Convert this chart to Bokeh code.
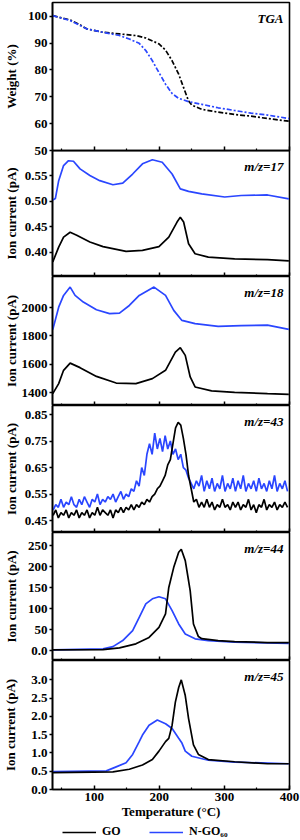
from bokeh.plotting import figure
from bokeh.layouts import column
from bokeh.models import Range1d, Label, Legend, LegendItem, FixedTicker, CustomLabelingPolicy
from bokeh.embed import file_html
from bokeh.resources import INLINE

# ---------------- data ----------------
X_START, X_END = 36, 400
X_TICKS = [100, 200, 300, 400]
X_MINOR = [50, 150, 250, 350]
X_LABELS = ["100", "200", "300", "400"]

# TGA (weight %)
tga_go_t = [36.4, 63.1, 78.3, 88.4, 113.6, 138.9, 164.1, 179.3, 199.5, 209.6, 219.7, 229.8,
            237.4, 245, 250, 265.2, 290.4, 315.7, 340.9, 366.2, 399]
tga_go_w = [100.2, 98.6, 96.8, 95.3, 94.0, 93.4, 92.8, 91.9, 89.7, 87.4, 83.4, 78.4,
            73.4, 68.4, 66.9, 65.3, 64.3, 63.4, 62.8, 61.9, 60.9]
tga_ngo_t = [36.4, 63.1, 88.4, 113.6, 138.9, 154, 169.2, 179.3, 189.4, 199.5, 209.6, 219.7,
             229.8, 245, 265.2, 290.4, 315.7, 340.9, 366.2, 399]
tga_ngo_w = [100.2, 98.4, 95.3, 94.0, 92.8, 91.5, 89.9, 87.2, 83.4, 79.0, 74.7, 71.2,
             69.4, 68.2, 67.2, 65.9, 64.9, 63.9, 63.2, 61.9]

# m/z = 17
mz17_go_t = [36.4, 45.5, 53, 63.1, 73.2, 93.4, 113.6, 149, 174.2, 199.5, 214.6, 227.3,
             232.3, 237.4, 245, 255, 275.3, 315.7, 366.2, 399]
mz17_go_v = [0.381, 0.410, 0.4295, 0.439, 0.433, 0.420, 0.411, 0.4016, 0.4035, 0.411, 0.4295, 0.459,
             0.4686, 0.459, 0.4166, 0.397, 0.3905, 0.387, 0.3855, 0.383]
mz17_ngo_t = [36.4, 40.4, 45.5, 53, 60.6, 68.2, 78.3, 93.4, 108.6, 128.8, 143.9, 159.1, 174.2,
              189.4, 204.5, 219.7, 232.3, 245, 265.2, 300.5, 325.8, 366.2, 399]
mz17_ngo_v = [0.502, 0.505, 0.540, 0.5695, 0.579, 0.578, 0.563, 0.550, 0.540, 0.532, 0.535, 0.553, 0.573,
              0.581, 0.576, 0.553, 0.524, 0.519, 0.514, 0.508, 0.511, 0.512, 0.5045]

# m/z = 18
mz18_go_t = [36.4, 45.5, 53, 63.1, 78.3, 103.5, 133.8, 164.1, 189.4, 209.6, 224.7, 232.3,
             239.9, 247.5, 255, 280.3, 315.7, 366.2, 399]
mz18_go_v = [1392, 1463, 1557, 1608, 1576, 1514, 1467, 1463, 1498, 1557, 1686, 1717,
             1663, 1510, 1439, 1411, 1401, 1392, 1387]
mz18_ngo_t = [36.4, 45.5, 53, 63.1, 70.7, 83.3, 103.5, 123.7, 138.9, 154, 169.2, 191.9, 209.6,
              222.2, 234.8, 255, 290.4, 325.8, 366.2, 399]
mz18_ngo_v = [1845, 2004, 2087, 2146, 2087, 2040, 1986, 1958, 1962, 2016, 2087, 2146, 2087,
              1981, 1910, 1887, 1868, 1873, 1877, 1847]

# m/z = 43 (noisy signal, values read every 4 degC)
mz43_t = [37, 41, 45, 49, 53, 57, 61, 65, 69, 73,
          77, 81, 85, 89, 93, 97, 101, 105, 109, 113,
          117, 121, 125, 129, 133, 137, 141, 145, 149, 153,
          157, 161, 165, 169, 173, 177, 181, 185, 189, 193,
          197, 201, 205, 209, 213, 217, 221, 225, 229, 233,
          237, 241, 245, 249, 253, 257, 261, 265, 269, 273,
          277, 281, 285, 289, 293, 297, 301, 305, 309, 313,
          317, 321, 325, 329, 333, 337, 341, 345, 349, 353,
          357, 361, 365, 369, 373, 377, 381, 385, 389, 393,
          397]
mz43_go_v = [0.47, 0.49, 0.46, 0.48, 0.47, 0.49, 0.46, 0.48, 0.47, 0.49,
             0.46, 0.48, 0.47, 0.49, 0.46, 0.48, 0.47, 0.50, 0.47, 0.49,
             0.48, 0.47, 0.49, 0.46, 0.49, 0.48, 0.50, 0.48, 0.50, 0.49,
             0.51, 0.49, 0.51, 0.50, 0.52, 0.51, 0.53, 0.52, 0.54, 0.55,
             0.57, 0.58, 0.60, 0.62, 0.66, 0.68, 0.74, 0.80, 0.82, 0.81,
             0.76, 0.70, 0.62, 0.57, 0.52, 0.53, 0.50, 0.52, 0.50, 0.53,
             0.50, 0.52, 0.49, 0.51, 0.50, 0.53, 0.50, 0.51, 0.49, 0.52,
             0.50, 0.52, 0.49, 0.51, 0.50, 0.53, 0.49, 0.51, 0.48, 0.51,
             0.50, 0.53, 0.49, 0.51, 0.50, 0.52, 0.49, 0.51, 0.50, 0.52,
             0.50]
mz43_ngo_v = [0.49, 0.51, 0.50, 0.53, 0.50, 0.52, 0.51, 0.54, 0.51, 0.50,
              0.53, 0.51, 0.54, 0.52, 0.50, 0.53, 0.52, 0.55, 0.51, 0.53,
              0.52, 0.54, 0.53, 0.55, 0.52, 0.54, 0.56, 0.53, 0.55, 0.54,
              0.57, 0.56, 0.60, 0.58, 0.65, 0.62, 0.70, 0.74, 0.70, 0.78,
              0.72, 0.76, 0.71, 0.77, 0.72, 0.75, 0.70, 0.72, 0.68, 0.70,
              0.65, 0.64, 0.61, 0.59, 0.57, 0.60, 0.58, 0.62, 0.56, 0.60,
              0.57, 0.61, 0.56, 0.59, 0.57, 0.62, 0.56, 0.59, 0.57, 0.61,
              0.56, 0.60, 0.57, 0.62, 0.56, 0.59, 0.57, 0.60, 0.56, 0.61,
              0.57, 0.59, 0.56, 0.60, 0.57, 0.62, 0.56, 0.59, 0.57, 0.60,
              0.56]

# m/z = 44
mz44_go_t = [36.4, 113.6, 138.9, 164.1, 184.3, 199.5, 209.6, 214.6, 222.2, 229.8, 233.8,
             239.9, 245, 247.5, 252.5, 260.1, 265.2, 290.4, 315.7, 366.2, 399]
mz44_go_v = [2.4, 3, 7, 16.7, 32, 56, 88, 151, 199, 235, 242,
             215, 167, 143, 64, 34, 29, 24.5, 22, 19.8, 19.8]
mz44_ngo_t = [36.4, 113.6, 128.8, 143.9, 159.1, 169.2, 179.3, 189.4, 199.5, 209.6, 219.7,
              229.8, 239.9, 255, 275.3, 315.7, 399]
mz44_ngo_v = [2.4, 4.8, 10, 24.5, 48, 80, 112, 124, 129, 124, 96,
              64, 40, 28.6, 24.5, 20.5, 18]

# m/z = 45
mz45_go_t = [36.4, 128.8, 154, 174.2, 189.4, 199.5, 209.6, 214.6, 219.7, 224.7, 229.8, 233.8,
             239.9, 245, 252.5, 260.1, 275.3, 315.7, 366.2, 399]
mz45_go_v = [0.46, 0.48, 0.555, 0.67, 0.82, 1.05, 1.31, 1.40, 1.76, 2.39, 2.79, 3.0,
             2.57, 1.94, 1.22, 0.96, 0.82, 0.76, 0.705, 0.705]
mz45_ngo_t = [36.4, 118.7, 133.8, 149, 159.1, 169.2, 174.2, 184.3, 197, 209.6, 219.7,
              229.8, 234.8, 239.9, 250, 275.3, 315.7, 399]
mz45_ngo_v = [0.49, 0.51, 0.62, 0.73, 0.96, 1.31, 1.49, 1.76, 1.90, 1.80, 1.67,
              1.40, 1.27, 1.05, 0.91, 0.80, 0.75, 0.705]

# axes
Y_TGA_TICKS = [50, 60, 70, 80, 90, 100]
Y_TGA_LABELS = ["50", "60", "70", "80", "90", "100"]
Y17_TICKS = [0.40, 0.45, 0.50, 0.55]
Y17_LABELS = ["0.40", "0.45", "0.50", "0.55"]
Y18_TICKS = [1400, 1600, 1800, 2000]
Y18_LABELS = ["1400", "1600", "1800", "2000"]
Y43_TICKS = [0.45, 0.55, 0.65, 0.75, 0.85]
Y43_LABELS = ["0.45", "0.55", "0.65", "0.75", "0.85"]
Y44_TICKS = [0, 50, 100, 150, 200, 250]
Y44_LABELS = ["0.0", "50", "100", "150", "200", "250"]
Y45_TICKS = [0.0, 0.5, 1.0, 1.5, 2.0, 2.5, 3.0]
Y45_LABELS = ["0.0", "0.5", "1.0", "1.5", "2.0", "2.5", "3.0"]

SERIES_NAMES = ["GO", "N-GO\u2086\u2080"]

# ---------------- style ----------------
BLACK = "#000000"
BLUE = "#2a46ff"
FONT = "Liberation Serif"
W = 300
LEFT = 49
RIGHT = 11
DASHDOT = "5 2 2 2"
TICK_FS = 13          # px
WIDEST = 26.0         # width of the widest y tick label ("2000") at 13px bold
OVERHANG = 7          # room under panel 1 so its lowest tick label "50" is drawn whole


def label_width(s):
    # Liberation Serif Bold: digits 0.5 em, '.' 0.25 em
    return sum(0.25 if c == "." else 0.5 for c in s) * TICK_FS


def panel(ymin, ymax, ticks, labels, frame_h, tag, ylabel, first=False, last=False,
          under_first=False):
    kw = {}
    if under_first:
        kw["styles"] = {"margin-top": f"-{OVERHANG}px"}
    p = figure(width=W, frame_height=frame_h,
               x_range=Range1d(X_START, X_END), y_range=Range1d(ymin, ymax),
               output_backend="svg", toolbar_location=None,
               min_border_left=LEFT, min_border_right=RIGHT,
               min_border_top=2 if first else 0,
               min_border_bottom=33 if last else (OVERHANG if first else 0),
               background_fill_color="white", border_fill_color="white", **kw)
    if under_first:
        p.background_fill_alpha = 0
        p.border_fill_alpha = 0
    p.grid.grid_line_color = None
    p.outline_line_color = BLACK
    p.outline_line_width = 1.6
    p.outline_line_alpha = 1.0

    ya = p.yaxis[0]
    ya.ticker = FixedTicker(ticks=ticks)
    ya.major_label_overrides = {t: s for t, s in zip(ticks, labels)}
    ya.major_tick_out = 3
    ya.major_tick_in = 0
    ya.minor_tick_line_color = None
    ya.major_tick_line_width = 1.5
    ya.axis_line_width = 1.6
    ya.major_label_text_font = FONT
    ya.major_label_text_font_style = "bold"
    ya.major_label_text_font_size = f"{TICK_FS}px"
    ya.major_label_text_color = BLACK
    ya.major_label_standoff = 2
    ya.axis_label = ylabel
    ya.axis_label_text_font = FONT
    ya.axis_label_text_font_style = "bold"
    ya.axis_label_text_font_size = "13px"
    ya.axis_label_text_color = BLACK
    widest_here = max(label_width(s) for s in labels)
    ya.axis_label_standoff = int(round(WIDEST - widest_here))

    xa = p.xaxis[0]
    xa.ticker = FixedTicker(ticks=X_TICKS, minor_ticks=X_MINOR)
    xa.major_tick_in = 4
    xa.major_tick_out = 0
    xa.minor_tick_in = 2
    xa.minor_tick_out = 0
    xa.major_tick_line_width = 1.5
    xa.minor_tick_line_width = 1.2
    xa.axis_line_width = 1.6
    if last:
        xa.major_label_overrides = {t: s for t, s in zip(X_TICKS, X_LABELS)}
        xa.major_label_text_font = FONT
        xa.major_label_text_font_style = "bold"
        xa.major_label_text_font_size = f"{TICK_FS}px"
        xa.major_label_text_color = BLACK
        xa.major_label_standoff = 3
        xa.axis_label = "Temperature (\u00b0C)"
        xa.axis_label_text_font = FONT
        xa.axis_label_text_font_style = "bold"
        xa.axis_label_text_font_size = "13px"
        xa.axis_label_text_color = BLACK
        xa.axis_label_standoff = 0
    else:
        xa.major_label_text_font_size = "0px"
        xa.major_label_standoff = 0
        xa.major_label_policy = CustomLabelingPolicy(
            code="for (const i of Array.from(indices)) { indices.unset(i) }\nreturn indices")

    p.add_layout(Label(x=X_END, y=ymax, x_offset=-6, y_offset=-16, text=tag,
                       text_font=FONT, text_font_style="bold italic",
                       text_font_size="13px", text_color=BLACK,
                       text_align="right", text_baseline="middle"))
    return p


LW = 1.7

p1 = panel(50, 105.1, Y_TGA_TICKS, Y_TGA_LABELS, 148, "TGA", "Weight (%)", first=True)
p1.line(tga_go_t, tga_go_w, line_color=BLACK, line_width=LW, line_dash=DASHDOT)
p1.line(tga_ngo_t, tga_ngo_w, line_color=BLUE, line_width=LW, line_dash=DASHDOT)

p2 = panel(0.3525, 0.599, Y17_TICKS, Y17_LABELS, 126, "m/z=17", "Ion current (pA)",
           under_first=True)
p2.line(mz17_ngo_t, mz17_ngo_v, line_color=BLUE, line_width=LW)
p2.line(mz17_go_t, mz17_go_v, line_color=BLACK, line_width=LW)

p3 = panel(1308, 2221, Y18_TICKS, Y18_LABELS, 129, "m/z=18", "Ion current (pA)")
p3.line(mz18_ngo_t, mz18_ngo_v, line_color=BLUE, line_width=LW)
p3.line(mz18_go_t, mz18_go_v, line_color=BLACK, line_width=LW)

p4 = panel(0.405, 0.884, Y43_TICKS, Y43_LABELS, 127, "m/z=43", "Ion current (pA)")
p4.line(mz43_t, mz43_ngo_v, line_color=BLUE, line_width=LW)
p4.line(mz43_t, mz43_go_v, line_color=BLACK, line_width=LW)

p5 = panel(-23, 282, Y44_TICKS, Y44_LABELS, 128, "m/z=44", "Ion current (pA)")
p5.line(mz44_ngo_t, mz44_ngo_v, line_color=BLUE, line_width=LW)
p5.line(mz44_go_t, mz44_go_v, line_color=BLACK, line_width=LW)

p6 = panel(0, 3.53, Y45_TICKS, Y45_LABELS, 129, "m/z=45", "Ion current (pA)", last=True)
p6.line(mz45_ngo_t, mz45_ngo_v, line_color=BLUE, line_width=LW)
p6.line(mz45_go_t, mz45_go_v, line_color=BLACK, line_width=LW)

# legend strip (its two line renderers fall outside the strip's y range, only the legend shows)
pl = figure(width=W, height=17, x_range=Range1d(X_START, X_END), y_range=Range1d(1000, 1001),
            output_backend="svg", toolbar_location=None,
            x_axis_location=None, y_axis_location=None,
            min_border_left=0, min_border_right=0, min_border_top=0, min_border_bottom=0)
pl.grid.grid_line_color = None
pl.outline_line_color = None
r_go = pl.line(mz45_go_t, mz45_go_v, line_color=BLACK, line_width=1.5)
r_ngo = pl.line(mz45_ngo_t, mz45_ngo_v, line_color=BLUE, line_width=1.5)
leg = Legend(items=[LegendItem(label=SERIES_NAMES[0], renderers=[r_go]),
                    LegendItem(label=SERIES_NAMES[1], renderers=[r_ngo])],
             orientation="horizontal", location=(10, 0),
             glyph_width=34, glyph_height=12, label_standoff=6, spacing=27,
             padding=0, margin=0, border_line_color=None, background_fill_alpha=0,
             label_text_font=FONT, label_text_font_style="bold",
             label_text_font_size="12px", label_text_color=BLACK, label_height=12)
pl.add_layout(leg, "center")

layout = column(p1, p2, p3, p4, p5, p6, pl, spacing=0)

open("out.html", "w").write(file_html(layout, INLINE))
